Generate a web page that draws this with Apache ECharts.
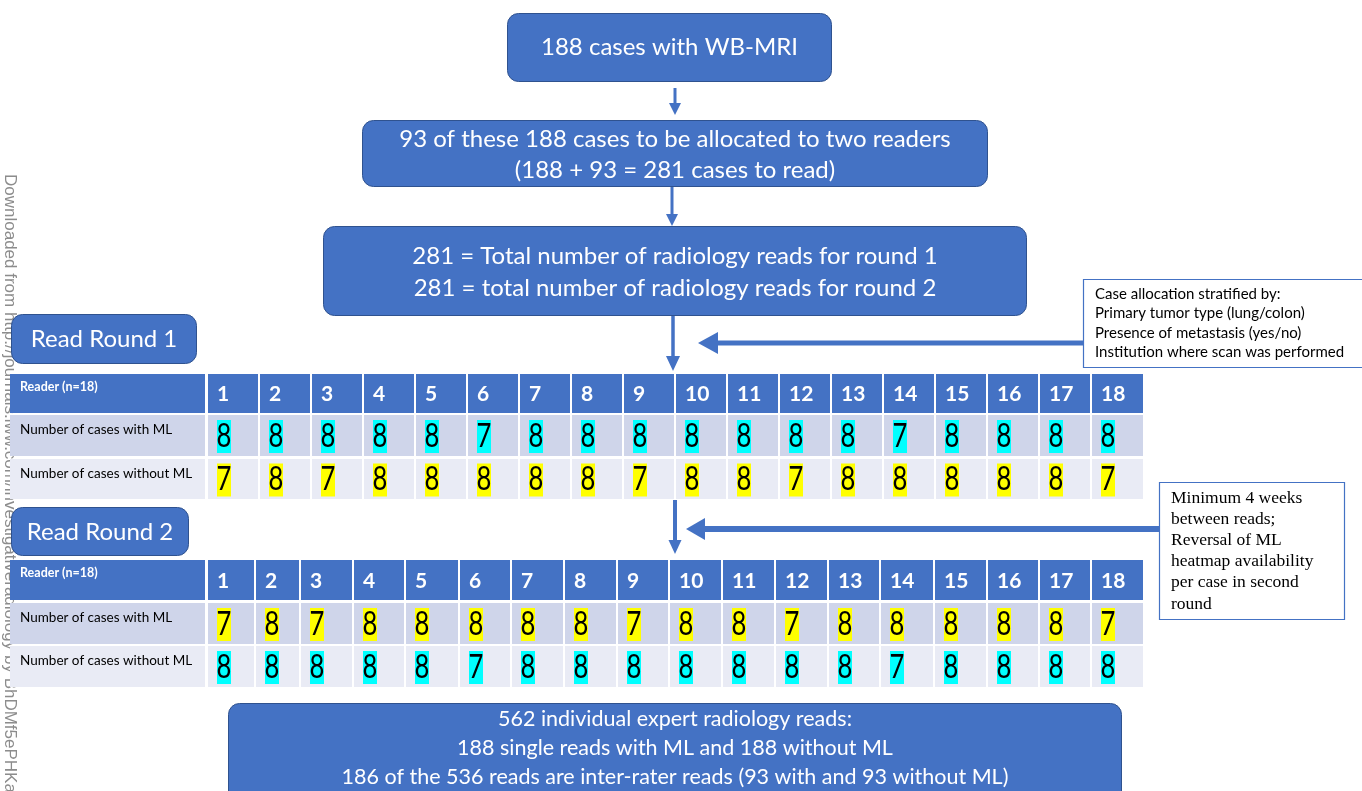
<!DOCTYPE html>
<html><head><meta charset="utf-8">
<script src="https://cdn.jsdelivr.net/npm/echarts@6/dist/echarts.min.js"></script>
<style>html,body{margin:0;padding:0;background:#fff;overflow:hidden}#c{width:1362px;height:791px}</style>
</head><body><div id="c"></div>
<script>
// ---------------- data ----------------
const readers = [1,2,3,4,5,6,7,8,9,10,11,12,13,14,15,16,17,18];
const round1WithML    = [8,8,8,8,8,7,8,8,8,8,8,8,8,7,8,8,8,8];
const round1WithoutML = [7,8,7,8,8,8,8,8,7,8,8,7,8,8,8,8,8,7];
const round2WithML    = [7,8,7,8,8,8,8,8,7,8,8,7,8,8,8,8,8,7];
const round2WithoutML = [8,8,8,8,8,7,8,8,8,8,8,8,8,7,8,8,8,8];
const rowLabels = ['Reader (n=18)', 'Number of cases with ML', 'Number of cases without ML'];
const roundTitles = ['Read Round 1', 'Read Round 2'];
const flowBox1 = ['188 cases with WB-MRI'];
const flowBox2 = ['93 of these 188 cases to be allocated to two readers', '(188 + 93 = 281 cases to read)'];
const flowBox3 = ['281 = Total number of radiology reads for round 1', '281 = total number of radiology reads for round 2'];
const flowBox4 = ['562 individual expert radiology reads:', '188 single reads with ML and 188 without ML', '186 of the 536 reads are inter-rater reads (93 with and 93 without ML)'];
const note1 = ['Case allocation stratified by:', 'Primary tumor type (lung/colon)', 'Presence of metastasis (yes/no)', 'Institution where scan was performed'];
const note2 = ['Minimum 4 weeks', 'between reads;', 'Reversal of ML', 'heatmap availability', 'per case in second', 'round'];
const watermark = 'Downloaded from http://journals.lww.com/investigativeradiology by BhDMf5ePHKav1zEoum1tQfN4a+kJLhEZgbsIHo4XMi0hCywCX1AWnYQp';

// ---------------- layout / style ----------------
const FONT = 'Lato';
const BLUE = '#4472C4', BLUE_EDGE = '#2F528F';
const ROW2 = '#CFD5EA', ROW3 = '#E9EBF5';
const CYAN = '#00FFFF', YELLOW = '#FFFF00';
const T1 = { edges: Array.from({length: 19}, (_, k) => k < 18 ? 208 + 52 * k : 1145),
             rows: [[374, 413], [415, 456], [459, 499]] };
const T2 = { edges: [208,256,301,354,406,460,512,565,618,670,723,776,829,881,935,988,1040,1092,1145],
             rows: [[560, 600], [603, 644], [646, 687]] };

function rectEl(api, xa, ya, xb, yb, fill) {
  const p = api.coord([xa, ya]), q = api.coord([xb, yb]);
  return { type: 'rect', shape: { x: p[0], y: p[1], width: q[0] - p[0], height: q[1] - p[1] }, style: { fill } };
}

function tableSeries(withML, withoutML, T, cWith, cWithout) {
  return {
    type: 'custom', coordinateSystem: 'cartesian2d', silent: true, z: 2,
    data: readers.map((r, i) => [i, r, withML[i], withoutML[i]]),
    renderItem(params, api) {
      const i = api.value(0);
      const x0 = T.edges[i], x1 = T.edges[i + 1] - 2;
      const vals = [api.value(2), api.value(3)];
      const cols = [cWith, cWithout];
      const ch = [];
      ch.push(rectEl(api, x0, T.rows[0][0], x1, T.rows[0][1], BLUE));
      const hp = api.coord([x0 + 9, (T.rows[0][0] + T.rows[0][1]) / 2 + 1]);
      ch.push({ type: 'text', x: hp[0], y: hp[1], style: { text: String(api.value(1)), fill: '#fff',
        font: 'bold 21px ' + FONT, textAlign: 'left', textVerticalAlign: 'middle' } });
      for (let r = 0; r < 2; r++) {
        const [ya, yb] = T.rows[r + 1];
        ch.push(rectEl(api, x0, ya, x1, yb, r === 0 ? ROW2 : ROW3));
        const cy = (ya + yb) / 2 + 1;
        ch.push(rectEl(api, x0 + 9, cy - 16.5, x0 + 23, cy + 16.5, cols[r]));
        const tp = api.coord([x0 + 16, cy]);
        ch.push({ type: 'text', x: tp[0], y: tp[1], scaleX: 0.8, style: { text: String(vals[r]), fill: '#000',
          font: '32px ' + FONT, textAlign: 'center', textVerticalAlign: 'middle' } });
      }
      return { type: 'group', children: ch };
    }
  };
}

function labelSeries(T) {
  return {
    type: 'custom', coordinateSystem: 'cartesian2d', silent: true, z: 2,
    data: rowLabels.map((l, k) => [k]),
    renderItem(params, api) {
      const k = api.value(0);
      const [ya, yb] = T.rows[k];
      const ch = [rectEl(api, 10, ya, 205, yb, [BLUE, ROW2, ROW3][k])];
      const p = api.coord([20, ya + (k === 0 ? 13 : 15)]);
      ch.push({ type: 'text', x: p[0], y: p[1], style: { text: rowLabels[k], fill: k === 0 ? '#fff' : '#000',
        font: (k === 0 ? 'bold 12.5px ' : '13.5px ') + FONT, textAlign: 'left', textVerticalAlign: 'middle' } });
      return { type: 'group', children: ch };
    }
  };
}

const watermarkSeries = {
  type: 'custom', coordinateSystem: 'cartesian2d', silent: true, z: 1,
  data: [[0]],
  renderItem(params, api) {
    const p = api.coord([18, 174]);
    return { type: 'text', x: p[0], y: p[1], rotation: -Math.PI / 2,
      style: { text: watermark, fill: '#8c8c8c', font: '17px "Liberation Sans"', textAlign: 'left', textVerticalAlign: 'top' } };
  }
};

// ---------------- graphic helpers ----------------
function box(x, y, w, h, lines, fontSize, lineH, cy) {
  const els = [{ type: 'rect', z: 10, shape: { x, y, width: w, height: h, r: 11 },
    style: { fill: BLUE, stroke: BLUE_EDGE, lineWidth: 1 } }];
  const start = cy - (lines.length - 1) * lineH / 2;
  lines.forEach((t, k) => els.push({ type: 'text', z: 11, x: x + w / 2, y: start + k * lineH,
    style: { text: t, fill: '#fff', font: fontSize + 'px ' + FONT, textAlign: 'center', textVerticalAlign: 'middle' } }));
  return els;
}
function vArrow(x, y0, y1, lw, hw, hh) {
  return [
    { type: 'line', z: 10, shape: { x1: x, y1: y0, x2: x, y2: y1 - hh + 1 }, style: { stroke: BLUE, lineWidth: lw } },
    { type: 'polygon', z: 10, shape: { points: [[x - hw / 2, y1 - hh], [x + hw / 2, y1 - hh], [x, y1]] }, style: { fill: BLUE } }
  ];
}
function hArrow(y, x0, x1, lw, hw, hh) {
  return [
    { type: 'line', z: 10, shape: { x1: x0, y1: y, x2: x1 + hh - 1, y2: y }, style: { stroke: BLUE, lineWidth: lw } },
    { type: 'polygon', z: 10, shape: { points: [[x1 + hh, y - hw / 2], [x1 + hh, y + hw / 2], [x1, y]] }, style: { fill: BLUE } }
  ];
}
function note(x, y, w, h, lines, font, tx, ty0, lineH) {
  const els = [{ type: 'rect', z: 10, shape: { x, y, width: w, height: h },
    style: { fill: '#fff', stroke: BLUE, lineWidth: 1.2 } }];
  lines.forEach((t, k) => els.push({ type: 'text', z: 11, x: tx, y: ty0 + k * lineH,
    style: { text: t, fill: '#000', font, textAlign: 'left', textVerticalAlign: 'middle' } }));
  return els;
}

const graphics = [].concat(
  box(507.5, 13.5, 324, 68, flowBox1, 24, 31, 47),
  vArrow(675, 88, 115, 3, 12, 12),
  box(362.5, 120.5, 625, 66, flowBox2, 24, 31, 154.5),
  vArrow(672, 187, 226, 3, 12, 12),
  box(323.5, 226.5, 703, 89, flowBox3, 24, 32, 272),
  vArrow(673, 316, 371, 3.5, 14, 15),
  hArrow(343, 1084, 698, 5, 22, 20),
  note(1083.5, 279.5, 290, 88, note1, '15px ' + FONT, 1095, 294, 19.4),
  box(11.5, 314.5, 185, 49, [roundTitles[0]], 24, 30, 339.5),
  vArrow(675, 500, 554, 4, 13, 14),
  hArrow(529, 1160, 686, 6, 22, 19),
  note(1159.5, 482.5, 185, 137, note2, '17.5px "Liberation Serif"', 1171, 498, 21.2),
  box(11.5, 507.5, 177, 48, [roundTitles[1]], 24, 30, 532),
  box(228.5, 703.5, 893, 110, flowBox4, 21.5, 29, 748)
);

const chart = echarts.init(document.getElementById('c'));
chart.setOption({
  animation: false,
  backgroundColor: '#fff',
  grid: { left: 0, right: 0, top: 0, bottom: 0 },
  xAxis: { type: 'value', min: 0, max: 1362, show: false },
  yAxis: { type: 'value', min: 0, max: 791, inverse: true, show: false },
  graphic: { elements: graphics },
  series: [
    watermarkSeries,
    labelSeries(T1),
    tableSeries(round1WithML, round1WithoutML, T1, CYAN, YELLOW),
    labelSeries(T2),
    tableSeries(round2WithML, round2WithoutML, T2, YELLOW, CYAN)
  ]
});
</script></body></html>
